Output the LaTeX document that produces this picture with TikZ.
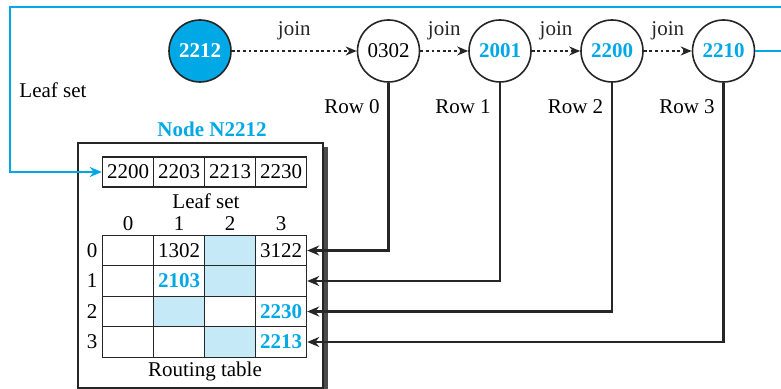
\documentclass[tikz,border=0pt]{standalone}
\usepackage{fontspec}
\setmainfont{Liberation Serif}
\usetikzlibrary{arrows.meta}
\definecolor{pblue}{HTML}{00A8E6}
\definecolor{pshade}{HTML}{C6E9F8}
\begin{document}
\begin{tikzpicture}[x=0.5pt,y=-0.5pt,
  font=\fontsize{10.5}{12}\selectfont,
  peer/.style={circle, draw=black!85, line width=0.8pt, minimum size=31pt, inner sep=0pt},
  hl/.style={text=pblue, font=\fontsize{10.5}{12}\selectfont\bfseries},
  cell/.style={draw=black!85, line width=0.7pt, minimum width=25.5pt, minimum height=15.25pt, inner sep=0pt},
  leafcell/.style={cell, minimum height=15pt},
  shade/.style={fill=pshade},
  joinarrow/.style={line width=1.1pt, dash pattern=on 1.4pt off 1.4pt, -{Stealth[length=5.5pt,width=4.5pt]}, black!85},
  conn/.style={line width=1.05pt, black!85, -{Stealth[length=6pt,width=5pt]}},
  blueline/.style={line width=1.3pt, pblue, -{Stealth[length=6pt,width=5pt]}},
  lab/.style={inner sep=0pt}
]
\clip (0,0) rectangle (781,389);
\useasboundingbox (0,0) rectangle (781,389);

% peers
\node[peer, fill=pblue, text=white, font=\fontsize{10.5}{12}\selectfont\bfseries] (p2212) at (200,51) {2212};
\node[peer] (p0302) at (388.5,51) {0302};
\node[peer, hl] (p2001) at (500,51) {2001};
\node[peer, hl] (p2200) at (612,51) {2200};
\node[peer, hl] (p2210) at (723.5,51) {2210};

\draw[joinarrow] (p2212) -- node[above, lab, yshift=5pt] (j1) {join} (p0302);
\draw[joinarrow] (p0302) -- node[above, lab, yshift=5pt] (j2) {join} (p2001);
\draw[joinarrow] (p2001) -- node[above, lab, yshift=5pt] (j3) {join} (p2200);
\draw[joinarrow] (p2200) -- node[above, lab, yshift=5pt] (j4) {join} (p2210);

\node[lab] (row0) at (352,107) {Row 0};
\node[lab] (row1) at (463,107) {Row 1};
\node[lab] (row2) at (575.5,107) {Row 2};
\node[lab] (row3) at (687,107) {Row 3};

\node[lab] (leaflab) at (53,90) {Leaf set};

% node box with shadow
\fill[black!70] (322,147) rectangle (327.5,395);
\draw[line width=0.8pt, black!85, fill=white] (78,143) rectangle (323,388);
\node[lab, text=pblue, font=\fontsize{10.5}{12}\selectfont\bfseries] (title) at (212,129) {Node N2212};

% leaf set
\foreach \v [count=\i from 0] in {2200,2203,2213,2230}
  \node[leafcell] (ls-\i) at (128+51*\i,172) {\v};
\node[lab] (lslab) at (206,201) {Leaf set};

% routing table
\foreach \c in {0,1,2,3}
  \node[lab] (ch-\c) at (128+51*\c,224) {\c};
\foreach \r in {0,1,2,3}
  \node[lab] (rh-\r) at (92,250.5+30.5*\r) {\r};

\node[cell] (rt-0-0) at (128,250.5) {};
\node[cell] (rt-0-1) at (179,250.5) {1302};
\node[cell, shade] (rt-0-2) at (230,250.5) {};
\node[cell] (rt-0-3) at (281,250.5) {3122};

\node[cell] (rt-1-0) at (128,281) {};
\node[cell, hl] (rt-1-1) at (179,281) {2103};
\node[cell, shade] (rt-1-2) at (230,281) {};
\node[cell] (rt-1-3) at (281,281) {};

\node[cell] (rt-2-0) at (128,311.5) {};
\node[cell, shade] (rt-2-1) at (179,311.5) {};
\node[cell] (rt-2-2) at (230,311.5) {};
\node[cell, hl] (rt-2-3) at (281,311.5) {2230};

\node[cell] (rt-3-0) at (128,342) {};
\node[cell] (rt-3-1) at (179,342) {};
\node[cell, shade] (rt-3-2) at (230,342) {};
\node[cell, hl] (rt-3-3) at (281,342) {2213};

\node[lab] (rtlab) at (205,371) {Routing table};

% connectors from peers to routing rows
\draw[conn] (p0302.south) |- (rt-0-3.east);
\draw[conn] (p2001.south) |- (rt-1-3.east);
\draw[conn] (p2200.south) |- (rt-2-3.east);
\draw[conn] (p2210.south) |- (rt-3-3.east);

% blue leaf-set loop
\coordinate (r1) at (800,51);
\coordinate (r2) at (800,7);
\coordinate (l1) at (10,7);
\coordinate (l2) at (10,172);
\draw[blueline, line join=miter] (p2210.east) -- (r1) -- (r2) -- (l1) -- (l2) -- (ls-0.west);
\end{tikzpicture}
\end{document}
